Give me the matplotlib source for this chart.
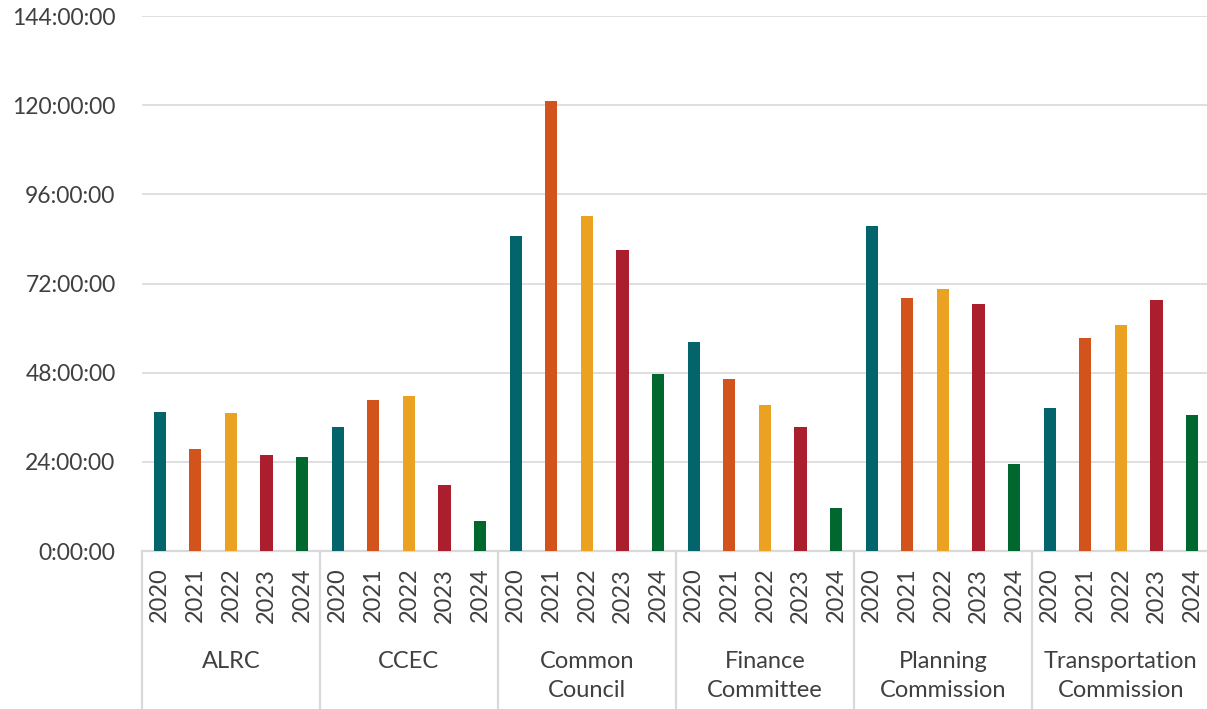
import numpy as np
import matplotlib.pyplot as plt
from matplotlib.ticker import FuncFormatter, MultipleLocator
import matplotlib.transforms as mtransforms

# meeting time per committee and year, in hours
groups = ["ALRC", "CCEC", "Common\nCouncil", "Finance\nCommittee",
          "Planning\nCommission", "Transportation\nCommission"]
years = ["2020", "2021", "2022", "2023", "2024"]
hours_2020 = [37.3, 33.3, 84.8, 56.2, 87.6, 38.4]
hours_2021 = [27.4, 40.6, 121.0, 46.2, 68.0, 57.3]
hours_2022 = [37.1, 41.7, 90.1, 39.2, 70.4, 60.8]
hours_2023 = [25.8, 17.7, 80.9, 33.3, 66.4, 67.5]
hours_2024 = [25.3, 8.1, 47.6, 11.6, 23.4, 36.6]
colors = ["#03646C", "#D2541C", "#EBA222", "#AA1E2D", "#00672F"]

plt.rcParams['font.family'] = ['Lato', 'DejaVu Sans']
text_color = "#404040"
grid_color = "#D9D9D9"

series = [hours_2020, hours_2021, hours_2022, hours_2023, hours_2024]
n_years = len(years)

fig = plt.figure(figsize=(12.07, 7.09), dpi=100)
ax = fig.add_axes([0.1176, 0.2228, 0.8848, 0.7546])

for g in range(len(groups)):
    for y in range(n_years):
        ax.bar(g * n_years + y, series[y][g], width=0.34, color=colors[y], zorder=3)

def fmt_hours(v, pos):
    h = int(round(v))
    return f"{h}:00:00"

ax.set_ylim(0, 144)
ax.set_xlim(-0.5, len(groups) * n_years - 0.5)
ax.yaxis.set_major_locator(MultipleLocator(24))
ax.yaxis.set_major_formatter(FuncFormatter(fmt_hours))
ax.grid(axis='y', color=grid_color, linewidth=1.2, zorder=0)

for side in ['left', 'right', 'top']:
    ax.spines[side].set_visible(False)
ax.spines['bottom'].set_color(grid_color)
ax.spines['bottom'].set_linewidth(1.6)

ax.set_xticks(np.arange(len(groups) * n_years))
ax.set_xticklabels(years * len(groups), rotation=90, fontsize=17, color=text_color)
ax.tick_params(axis='x', length=0, pad=12)
ax.tick_params(axis='y', length=0, pad=19, labelsize=16.5, labelcolor=text_color)

# group separators and group names under the year labels
trans = mtransforms.blended_transform_factory(ax.transData, ax.transAxes)
for g in range(len(groups) + 1):
    ax.plot([g * n_years - 0.5] * 2, [0, -0.3], transform=trans, color=grid_color,
            linewidth=1.6, clip_on=False)
for g, name in enumerate(groups):
    ax.text(g * n_years + 2, -0.186, name, transform=trans, ha='center', va='top',
            fontsize=17, color=text_color, linespacing=1.5)

fig.savefig("out.png", dpi=100)
